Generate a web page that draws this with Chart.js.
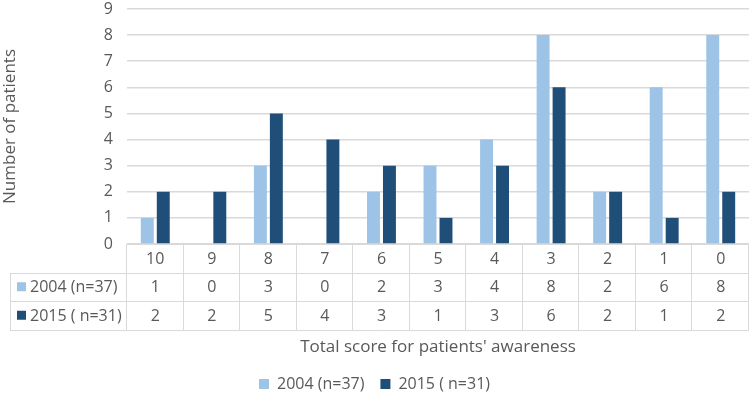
<!DOCTYPE html>
<html>
<head>
<meta charset="utf-8">
<script src="https://cdn.jsdelivr.net/npm/chart.js@4"></script>
<style>
  html, body { margin: 0; padding: 0; background: #fff; }
  #wrap { width: 750px; height: 406px; }
</style>
</head>
<body>
<div id="wrap"><canvas id="bar-chart"></canvas></div>
<script>
let labels = ["10", "9", "8", "7", "6", "5", "4", "3", "2", "1", "0"];
let data2004 = [1, 0, 3, 0, 2, 3, 4, 8, 2, 6, 8];
let data2015 = [2, 2, 5, 4, 3, 1, 3, 6, 2, 1, 2];
let seriesNames = ["2004 (n=37)", "2015 ( n=31)"];
let yTicks = [0, 1, 2, 3, 4, 5, 6, 7, 8, 9];

let colors = ["#9DC3E6", "#1F4E79"];
let textColor = "#595959";
let lineColor = "#d9d9d9";
let fontFamily = "'Open Sans', sans-serif";

// data table drawn under the plot, columns follow the x scale
const tablePlugin = {
  id: "dataTable",
  afterDraw(chart) {
    const ctx = chart.ctx;
    const x = chart.scales.x;
    const left = chart.chartArea.left;
    const right = chart.chartArea.right;
    const top = chart.chartArea.bottom;
    const rowH = 28.5;
    const tableLeft = 10;
    const colW = (right - left) / labels.length;
    const rows = [data2004, data2015];

    ctx.save();
    ctx.strokeStyle = lineColor;
    ctx.lineWidth = 1;
    ctx.beginPath();
    // horizontal lines
    ctx.moveTo(left, Math.round(top) + 0.5);
    ctx.lineTo(right, Math.round(top) + 0.5);
    for (let r = 1; r <= 3; r++) {
      const y = Math.round(top + r * rowH) + 0.5;
      ctx.moveTo(tableLeft, y);
      ctx.lineTo(right, y);
    }
    // vertical lines
    ctx.moveTo(tableLeft + 0.5, Math.round(top + rowH));
    ctx.lineTo(tableLeft + 0.5, Math.round(top + 3 * rowH));
    for (let i = 0; i <= labels.length; i++) {
      const xx = Math.round(left + i * colW) - 0.5;
      ctx.moveTo(xx, top);
      ctx.lineTo(xx, Math.round(top + 3 * rowH));
    }
    ctx.stroke();

    ctx.font = "16px " + fontFamily;
    ctx.fillStyle = textColor;
    ctx.textAlign = "center";
    ctx.textBaseline = "middle";
    labels.forEach((lab, i) => {
      const cx = x.getPixelForValue(i);
      ctx.fillText(lab, cx, top + rowH / 2 + 1);
      rows.forEach((row, r) => {
        ctx.fillText(String(row[i]), cx, top + rowH * (r + 1.5) + 1);
      });
    });

    ctx.textAlign = "left";
    seriesNames.forEach((name, r) => {
      const cy = top + rowH * (r + 1.5);
      ctx.fillStyle = colors[r];
      ctx.fillRect(17, cy - 4.5, 9, 9);
      ctx.fillStyle = textColor;
      ctx.fillText(name, 30, cy + 1);
    });
    ctx.restore();
  }
};

let ctx = document.getElementById("bar-chart").getContext("2d");
let barChart = new Chart(ctx, {
  type: "bar",
  data: {
    labels: labels,
    datasets: [
      {
        label: seriesNames[0],
        data: data2004,
        backgroundColor: colors[0],
        categoryPercentage: 0.565,
        barPercentage: 0.81
      },
      {
        label: seriesNames[1],
        data: data2015,
        backgroundColor: colors[1],
        categoryPercentage: 0.565,
        barPercentage: 0.81
      }
    ]
  },
  options: {
    responsive: true,
    maintainAspectRatio: false,
    animation: false,
    layout: { padding: { top: 0, right: 1, bottom: 4, left: 0 } },
    plugins: {
      tooltip: { enabled: false },
      legend: {
        position: "bottom",
        labels: {
          boxWidth: 10,
          boxHeight: 10,
          padding: 16,
          color: textColor,
          font: { family: fontFamily, size: 16 }
        }
      }
    },
    scales: {
      x: {
        ticks: { display: false },
        grid: { display: false },
        border: { display: false },
        title: {
          display: true,
          text: "Total score for patients' awareness",
          color: textColor,
          font: { family: fontFamily, size: 17 },
          padding: { top: 0, bottom: 3 }
        },
        afterFit(scale) { scale.height = 116; }
      },
      y: {
        min: 0,
        max: 9,
        afterBuildTicks(scale) { scale.ticks = yTicks.map(v => ({ value: v })); },
        ticks: {
          color: textColor,
          font: { family: fontFamily, size: 16 },
          padding: 14
        },
        grid: { color: lineColor, drawTicks: false, lineWidth: 1.5 },
        border: { display: false },
        title: {
          display: true,
          text: "Number of patients",
          color: textColor,
          font: { family: fontFamily, size: 17 },
          padding: { top: 0, bottom: 0 }
        },
        afterFit(scale) {
          scale.width = 127;
          scale.paddingTop = 9;
          scale.paddingBottom = 0;
        }
      }
    }
  },
  plugins: [tablePlugin]
});
</script>
</body>
</html>
